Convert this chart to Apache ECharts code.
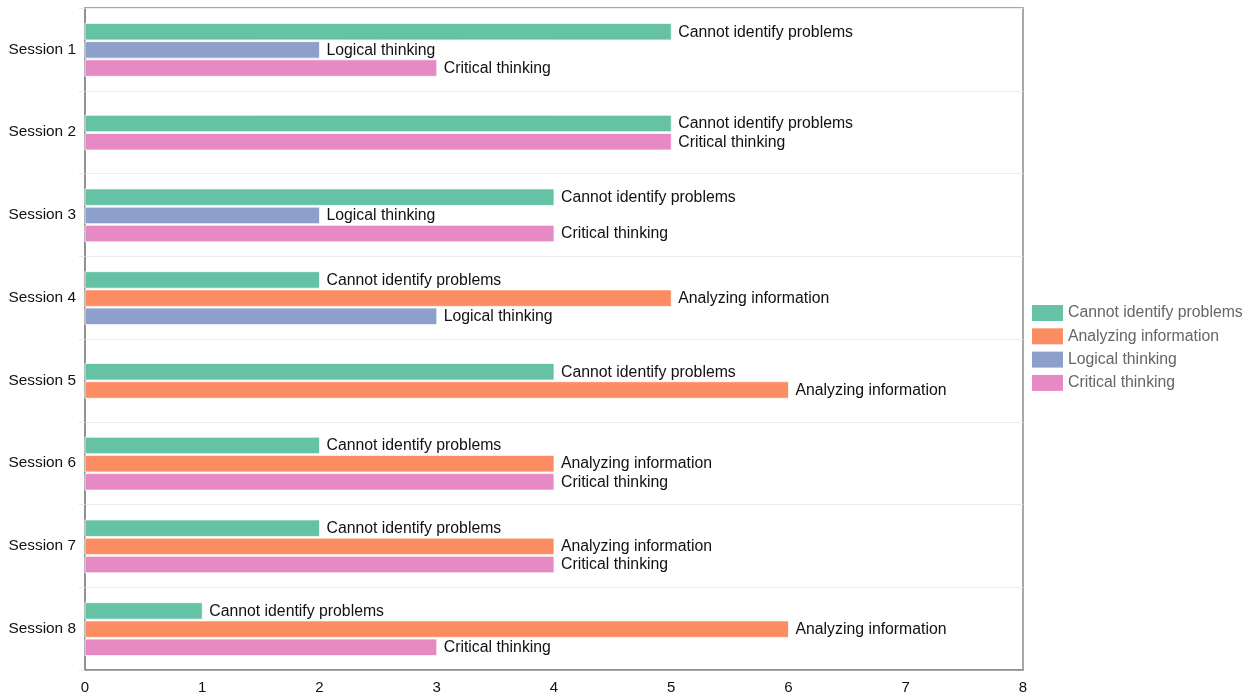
<!DOCTYPE html>
<html>
<head>
<meta charset="utf-8">
<script src="https://cdn.jsdelivr.net/npm/echarts@6/dist/echarts.min.js"></script>
<style>
  html, body { margin: 0; padding: 0; background: #fff; }
  #chart { width: 1255px; height: 696px; }
</style>
</head>
<body>
<div id="chart"></div>
<script>
// 数据：每个 session 各类问题的次数，null 表示该 session 没有这一项
const sessions = ['Session 1', 'Session 2', 'Session 3', 'Session 4', 'Session 5', 'Session 6', 'Session 7', 'Session 8']
const seriesNames = ['Cannot identify problems', 'Analyzing information', 'Logical thinking', 'Critical thinking']
const cannotIdentify = [5, 5, 4, 2, 4, 2, 2, 1]
const analyzingInfo = [null, null, null, 5, 6, 4, 4, 6]
const logicalThinking = [2, null, 2, 3, null, null, null, null]
const criticalThinking = [3, 5, 4, null, null, 4, 4, 3]
const xTicks = [0, 1, 2, 3, 4, 5, 6, 7, 8]

const colors = ['#66c2a5', '#fc8d62', '#8da0cb', '#e78ac3']
const allValues = [cannotIdentify, analyzingInfo, logicalThinking, criticalThinking]
const FONT = '"Liberation Sans", Arial, sans-serif'

// 每个 session 里实际存在的系列（缺失项不占位，剩下的居中排列）
const presentBySession = sessions.map((_, i) =>
  allValues.map((arr, s) => (arr[i] == null ? -1 : s)).filter((s) => s >= 0)
)

const BAR_H = 16.5
const PITCH = 18.2

function makeRenderer(seriesIdx) {
  return function (params, api) {
    const v = api.value(0)
    const ci = api.value(1)
    const start = api.coord([0, ci])
    const end = api.coord([v, ci])
    const present = presentBySession[ci]
    const n = present.length
    const k = present.indexOf(seriesIdx)
    const cy = start[1] + 0.5 + (k - (n - 1) / 2) * PITCH
    return {
      type: 'group',
      children: [
        {
          type: 'rect',
          shape: { x: start[0], y: cy - BAR_H / 2, width: end[0] - start[0], height: BAR_H },
          style: { fill: colors[seriesIdx], stroke: 'rgba(255,255,255,0.7)', lineWidth: 1 }
        },
        {
          type: 'text',
          x: end[0] + 7,
          y: cy + 0.5,
          style: {
            text: seriesNames[seriesIdx],
            fill: '#111',
            font: '15.8px ' + FONT,
            verticalAlign: 'middle',
            align: 'left'
          }
        }
      ]
    }
  }
}

const series = allValues.map((arr, s) => ({
  name: seriesNames[s],
  type: 'custom',
  renderItem: makeRenderer(s),
  itemStyle: { color: colors[s] },
  encode: { x: 0, y: 1 },
  data: arr.map((v, i) => (v == null ? null : [v, i])).filter((d) => d)
}))

const chart = echarts.init(document.getElementById('chart'))
chart.setOption({
  animation: false,
  textStyle: { fontFamily: FONT },
  grid: {
    left: 85,
    right: 232,
    top: 8,
    bottom: 26,
    show: true,
    borderColor: '#8a8a8a',
    borderWidth: 1.5
  },
  legend: {
    orient: 'vertical',
    left: 1027,
    top: 300,
    itemWidth: 31,
    itemHeight: 16,
    itemGap: 7.3,
    icon: 'rect',
    data: seriesNames,
    textStyle: { color: '#666', fontSize: 15.8, lineHeight: 16 }
  },
  xAxis: {
    type: 'value',
    min: xTicks[0],
    max: xTicks[xTicks.length - 1],
    interval: 1,
    axisLine: { show: true, lineStyle: { color: '#8a8a8a', width: 1.5 } },
    axisTick: { show: false },
    splitLine: { show: false },
    axisLabel: { color: '#111', fontSize: 15, margin: 10 }
  },
  yAxis: {
    type: 'category',
    data: sessions,
    inverse: true,
    axisLine: { show: true, lineStyle: { color: '#8a8a8a', width: 1.5 } },
    axisTick: { show: true, length: 6, lineStyle: { color: '#e6e6e6' } },
    splitLine: { show: true, lineStyle: { color: '#ececec' } },
    axisLabel: { color: '#111', fontSize: 15.4, margin: 9 }
  },
  series: series
})
</script>
</body>
</html>
